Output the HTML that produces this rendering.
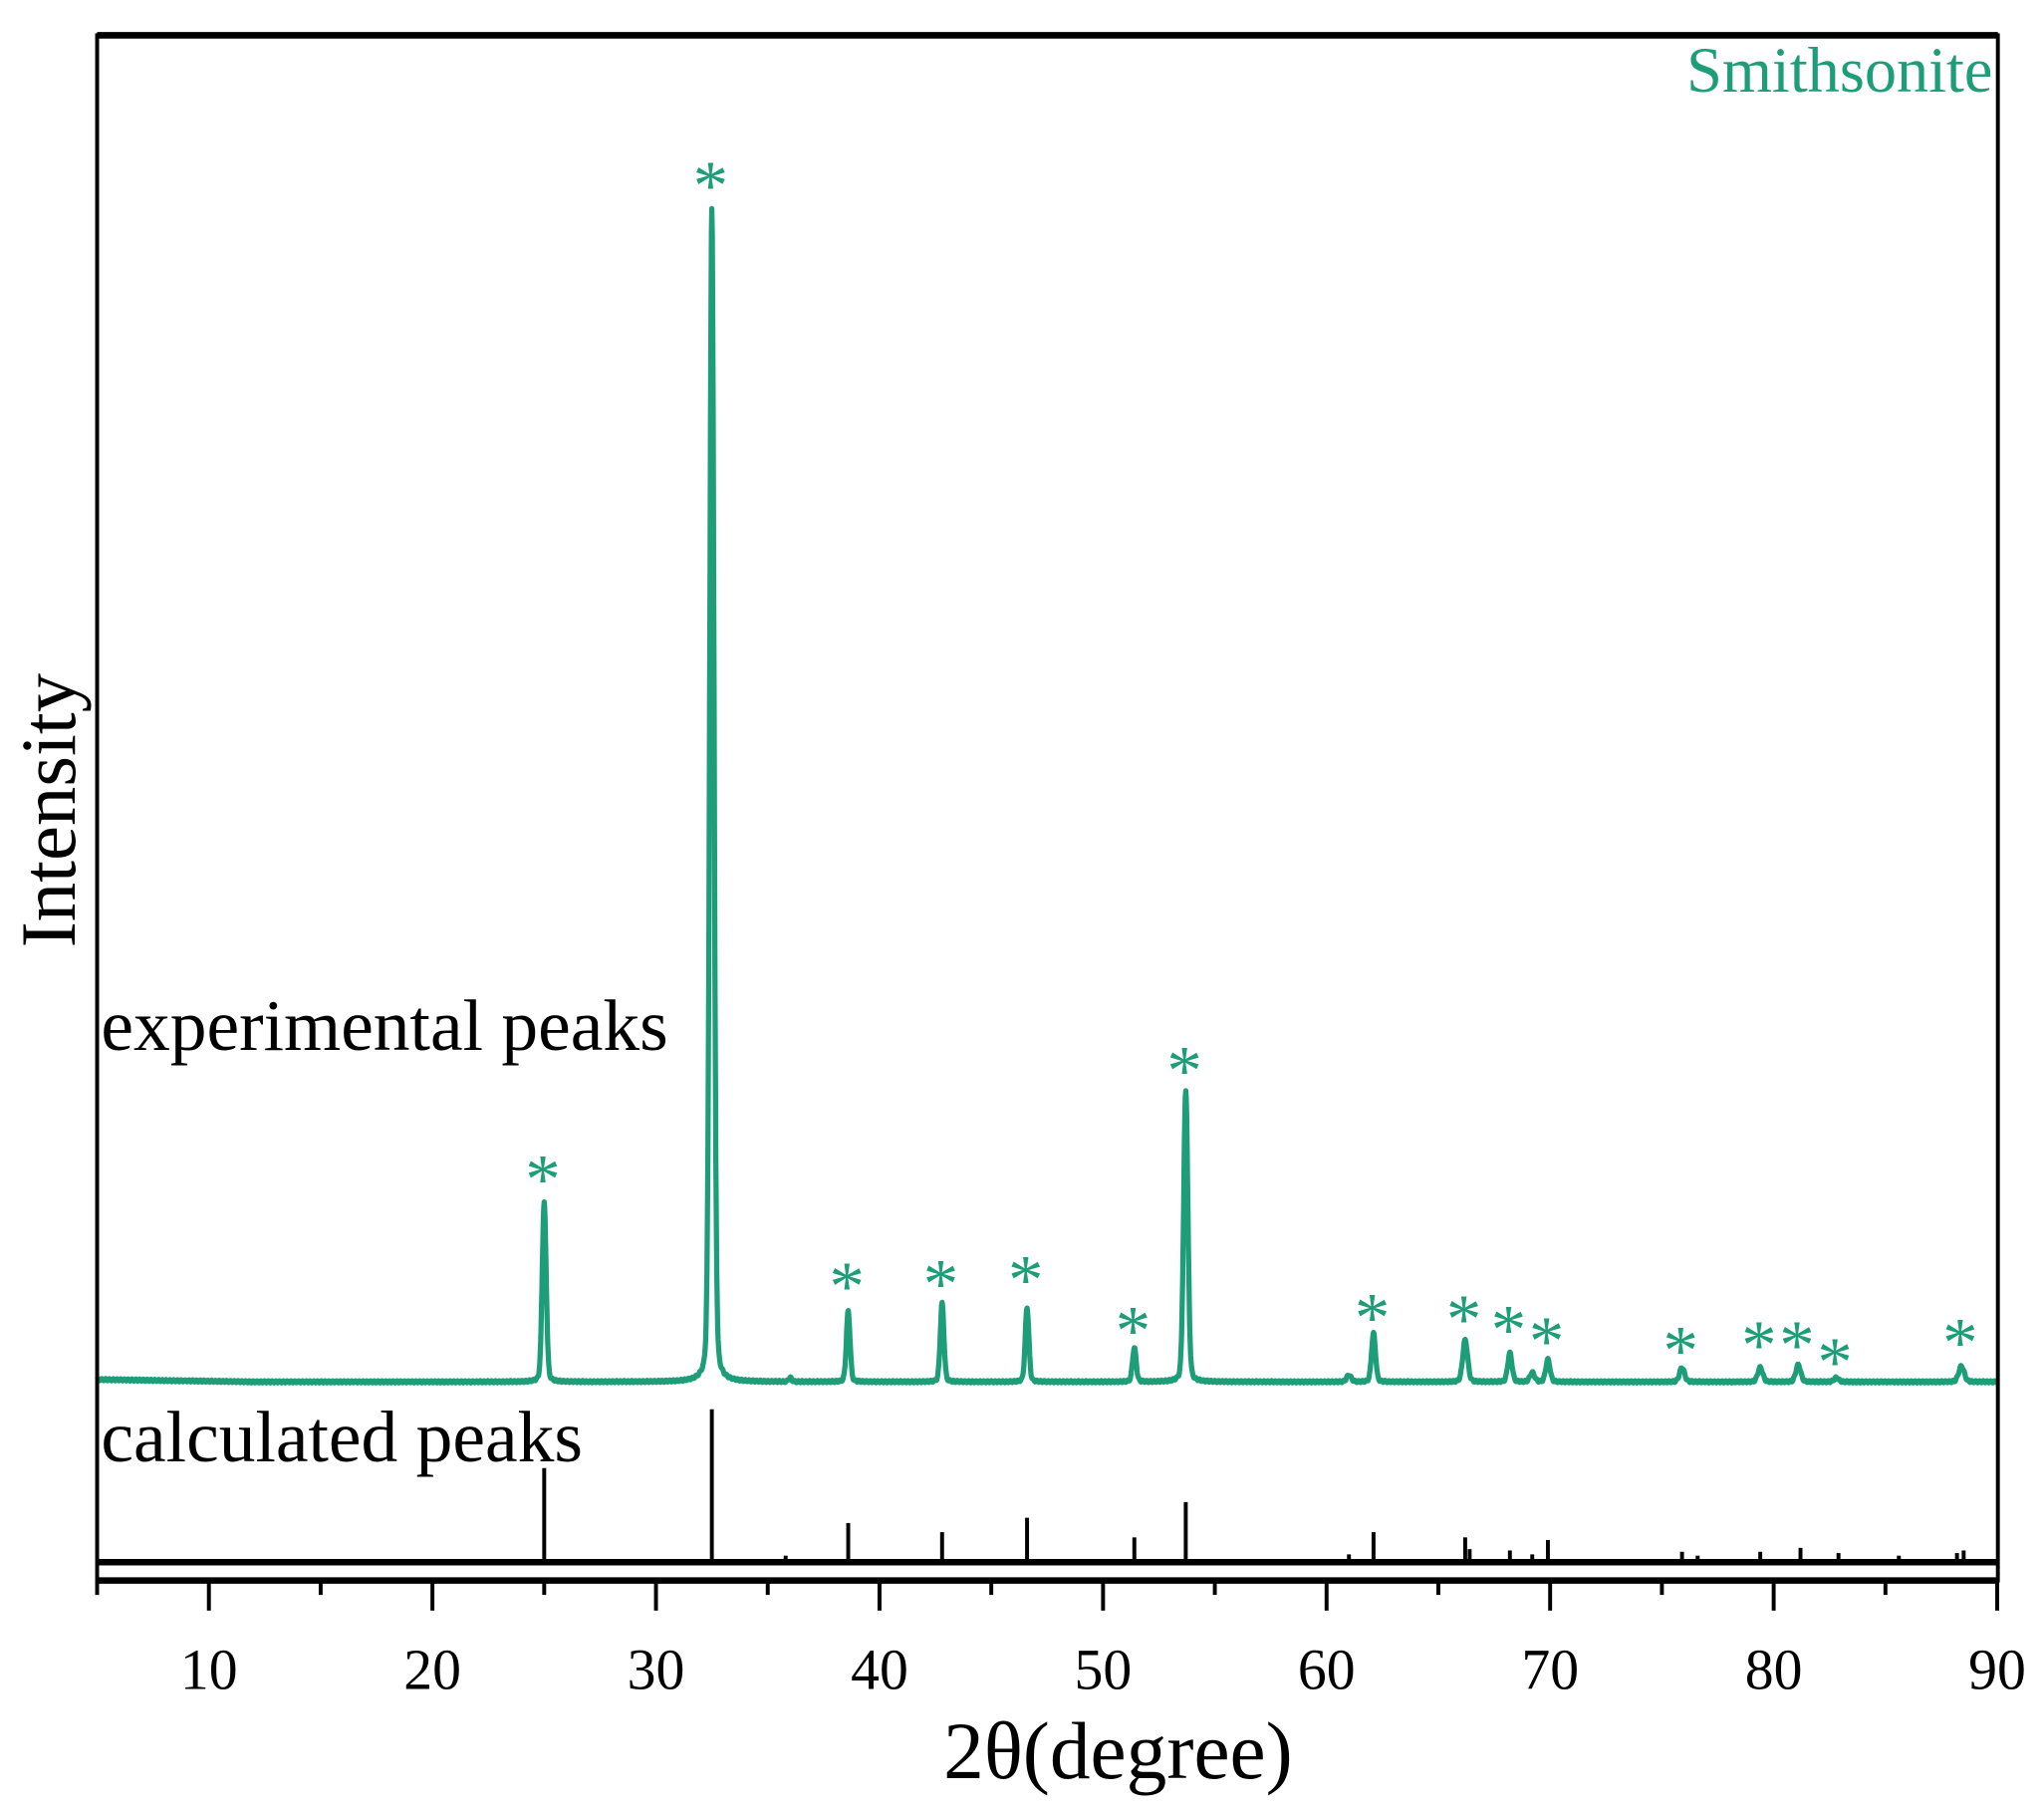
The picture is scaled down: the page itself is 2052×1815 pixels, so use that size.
<!DOCTYPE html>
<html><head><meta charset="utf-8"><style>
html,body{margin:0;padding:0;background:#fff;}
svg{display:block;}
text{font-family:"Liberation Serif",serif;}
</style></head><body>
<svg id="s" width="2052" height="1815" viewBox="0 0 1563 1383" xmlns="http://www.w3.org/2000/svg">
<rect x="0" y="0" width="1563" height="1383" fill="#fff"/>
<g id="g"></g>
<rect x="74" y="27" width="1454" height="1182" fill="none" stroke="#000" stroke-width="3"/>
<line x1="74" y1="27" x2="1528" y2="27" stroke="#000" stroke-width="5"/>
<line x1="74" y1="1195" x2="1528" y2="1195" stroke="#000" stroke-width="5"/>
<line x1="74" y1="1209" x2="1528" y2="1209" stroke="#000" stroke-width="5"/>
<g id="ticks" stroke="#000" stroke-width="3"></g>
<g font-size="44" text-anchor="middle" id="tl"></g>
<text x="1524" y="70" font-size="49" text-anchor="end" fill="#1d9e78">Smithsonite</text>
<text x="77" y="803" font-size="56">experimental peaks</text>
<text x="77" y="1118" font-size="56">calculated peaks</text>
<text x="855" y="1360" font-size="62" text-anchor="middle">2θ(degree)</text>
<text transform="translate(57,620) rotate(-90)" font-size="60" text-anchor="middle">Intensity</text>
</svg>
<script>
const NS="http://www.w3.org/2000/svg";
const X=v=>74+(v-5)*17.1;
const g=document.getElementById('g');
function el(t,a,p){const e=document.createElementNS(NS,t);for(const k in a)e.setAttribute(k,a[k]);(p||g).appendChild(e);return e;}
const tk=document.getElementById('ticks'),tl=document.getElementById('tl');
for(let v=5;v<=90;v+=5){const maj=v%10==0;el('line',{x1:X(v),y1:1209,x2:X(v),y2:maj?1232:1220},tk);
 if(maj){const t=el('text',{x:X(v),y:1292},tl);t.textContent=v;}}
const base=1057;
const pk=[[25.0,137,0.13],[32.5,897,0.14],[36,3,0.1],[38.6,54,0.12],[42.8,60,0.12],[46.6,57,0.12],[51.4,26,0.12],[53.7,223,0.14],[61,5,0.15],[62.1,37,0.13],[66.2,32,0.16],[68.2,22,0.14],[69.2,7,0.15],[69.9,17,0.14],[75.9,11,0.16],[79.4,11,0.16],[81.1,13,0.16],[82.8,3,0.16],[88.4,12,0.18]];
let d="";
for(let v=5;v<=90;v+=0.02){let y=base+ (v<12? -(12-v)*0.25:0);
 for(const [c,h,w] of pk){const u=(v-c)/w;y-=h/(1+u*u*1.2)*0.15+h*0.85*Math.exp(-u*u*1.1);}
 y+=Math.sin(v*37.1)*0.8;
 d+=(d?"L":"M")+X(v).toFixed(1)+" "+y.toFixed(1);}
el('path',{d:d,fill:'none',stroke:'#1d9e78','stroke-width':4,'stroke-linejoin':'round'});
const st=[[25.0,896],[32.5,136],[38.6,978],[42.8,976],[46.6,973],[51.4,1012],[53.7,813],[62.1,1002],[66.2,1003],[68.2,1011],[69.9,1020],[75.9,1027],[79.4,1023],[81.1,1023],[82.8,1036],[88.4,1021]];
for(const [c,y] of st){const t=el('text',{x:X(c)-1,y:y+24,'font-size':54,'text-anchor':'middle',fill:'#1d9e78'});t.textContent='*';}
const sk=[[25.0,1123],[32.5,1078],[35.8,1190],[38.6,1165],[42.8,1172],[46.6,1161],[51.4,1176],[53.7,1149],[61,1189],[62.1,1172],[66.2,1176],[66.4,1185],[68.2,1186],[69.2,1189],[69.9,1178],[75.9,1187],[76.6,1190],[79.4,1187],[81.2,1184],[82.9,1188],[85.6,1190],[88.2,1188],[88.5,1186]];
for(const [c,y] of sk)el('line',{x1:X(c),y1:1195,x2:X(c),y2:y,stroke:'#000','stroke-width':3});
</script>
</body></html>
